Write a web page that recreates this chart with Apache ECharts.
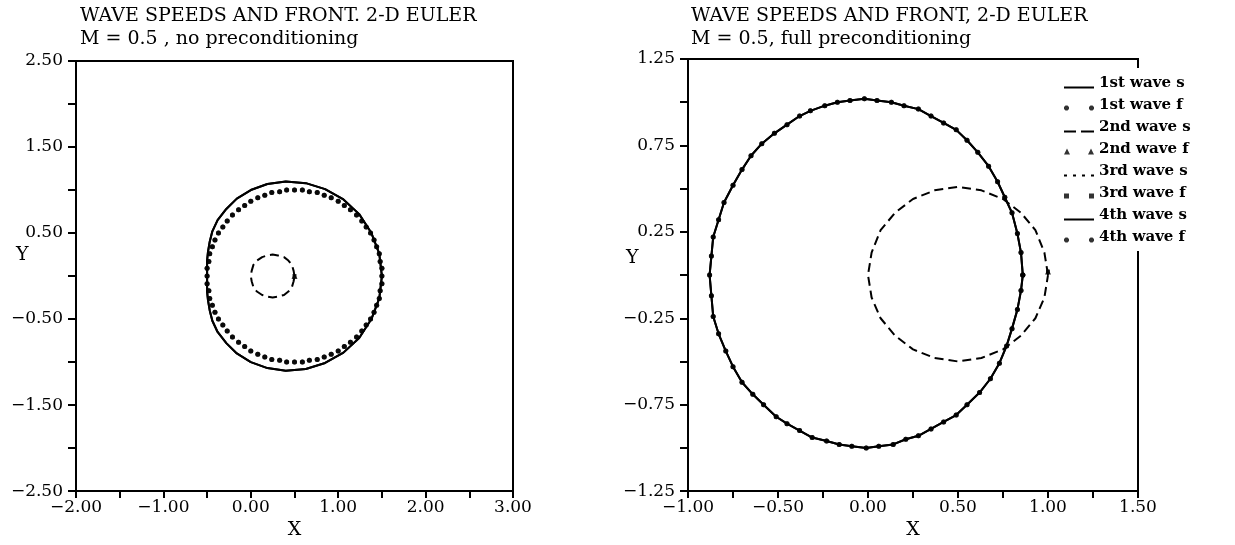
<!DOCTYPE html>
<html>
<head>
<meta charset="utf-8">
<script src="https://cdn.jsdelivr.net/npm/echarts@6/dist/echarts.min.js"></script>
<style>
html, body { margin: 0; padding: 0; background: #fff; }
#chart { width: 1235px; height: 545px; }
</style>
</head>
<body>
<div id="chart"></div>
<script>
// left panel: M = 0.5, no preconditioning
var leftSpeedX = [1.50, 1.47, 1.38, 1.24, 1.06, 0.85, 0.63, 0.40, 0.19, 0.00, -0.16, -0.28, -0.38, -0.44, -0.47, -0.49, -0.50, -0.50, -0.50,
	-0.50, -0.50, -0.49, -0.47, -0.44, -0.38, -0.28, -0.16, 0.00, 0.19, 0.40, 0.63, 0.85, 1.06, 1.24, 1.38, 1.47, 1.50];
var leftSpeedY = [0.00, 0.26, 0.50, 0.72, 0.89, 1.01, 1.08, 1.10, 1.07, 1.00, 0.90, 0.78, 0.65, 0.52, 0.40, 0.28, 0.18, 0.09, 0.00,
	-0.09, -0.18, -0.28, -0.40, -0.52, -0.65, -0.78, -0.90, -1.00, -1.07, -1.10, -1.08, -1.01, -0.89, -0.72, -0.50, -0.26, 0.00];
var leftFrontX = [1.50, 1.50, 1.48, 1.47, 1.44, 1.41, 1.37, 1.32, 1.27, 1.21, 1.14, 1.07, 1.00, 0.92, 0.84, 0.76, 0.67, 0.59,
	0.50, 0.41, 0.33, 0.24, 0.16, 0.08, 0.00, -0.07, -0.14, -0.21, -0.27, -0.32, -0.37, -0.41, -0.44, -0.47, -0.48, -0.50,
	-0.50, -0.50, -0.48, -0.47, -0.44, -0.41, -0.37, -0.32, -0.27, -0.21, -0.14, -0.07, 0.00, 0.08, 0.16, 0.24, 0.33, 0.41,
	0.50, 0.59, 0.67, 0.76, 0.84, 0.92, 1.00, 1.07, 1.14, 1.21, 1.27, 1.32, 1.37, 1.41, 1.44, 1.47, 1.48, 1.50];
var leftFrontY = [0.00, 0.09, 0.17, 0.26, 0.34, 0.42, 0.50, 0.57, 0.64, 0.71, 0.77, 0.82, 0.87, 0.91, 0.94, 0.97, 0.98, 1.00,
	1.00, 1.00, 0.98, 0.97, 0.94, 0.91, 0.87, 0.82, 0.77, 0.71, 0.64, 0.57, 0.50, 0.42, 0.34, 0.26, 0.17, 0.09,
	0.00, -0.09, -0.17, -0.26, -0.34, -0.42, -0.50, -0.57, -0.64, -0.71, -0.77, -0.82, -0.87, -0.91, -0.94, -0.97, -0.98, -1.00,
	-1.00, -1.00, -0.98, -0.97, -0.94, -0.91, -0.87, -0.82, -0.77, -0.71, -0.64, -0.57, -0.50, -0.42, -0.34, -0.26, -0.17, -0.09];
var leftEntropyX = [0.50, 0.49, 0.47, 0.43, 0.38, 0.31, 0.25, 0.19, 0.13, 0.07, 0.03, 0.01, 0.00,
	0.01, 0.03, 0.07, 0.13, 0.19, 0.25, 0.31, 0.38, 0.43, 0.47, 0.49, 0.50];
var leftEntropyY = [0.00, 0.06, 0.13, 0.18, 0.22, 0.24, 0.25, 0.24, 0.22, 0.18, 0.13, 0.06, 0.00,
	-0.06, -0.13, -0.18, -0.22, -0.24, -0.25, -0.24, -0.22, -0.18, -0.13, -0.06, 0.00];
var leftEntropyFront = [[0.50, 0.00]];

// right panel: M = 0.5, full preconditioning
var rightSpeedX = [0.86, 0.85, 0.83, 0.80, 0.76, 0.72, 0.67, 0.61, 0.55, 0.49, 0.42, 0.35, 0.28, 0.20, 0.13, 0.05, -0.02,
	-0.10, -0.17, -0.24, -0.32, -0.38, -0.45, -0.52, -0.59, -0.65, -0.70, -0.75, -0.80, -0.83, -0.86, -0.87, -0.88,
	-0.87, -0.86, -0.83, -0.79, -0.75, -0.70, -0.64, -0.58, -0.51, -0.45, -0.38, -0.31, -0.23, -0.16, -0.09, -0.01,
	0.06, 0.14, 0.21, 0.28, 0.35, 0.42, 0.49, 0.55, 0.62, 0.68, 0.73, 0.77, 0.80, 0.83, 0.85, 0.86];
var rightSpeedY = [0.00, 0.13, 0.24, 0.36, 0.45, 0.54, 0.63, 0.71, 0.78, 0.84, 0.88, 0.92, 0.96, 0.98, 1.00, 1.01, 1.02,
	1.01, 1.00, 0.98, 0.95, 0.92, 0.87, 0.82, 0.76, 0.69, 0.61, 0.52, 0.42, 0.32, 0.22, 0.11, 0.00,
	-0.12, -0.24, -0.34, -0.44, -0.53, -0.62, -0.69, -0.75, -0.82, -0.86, -0.90, -0.94, -0.96, -0.98, -0.99, -1.00,
	-0.99, -0.98, -0.95, -0.93, -0.89, -0.85, -0.81, -0.75, -0.68, -0.60, -0.51, -0.41, -0.31, -0.20, -0.09, 0.00];
var rightEntropyX = [1.00, 0.98, 0.93, 0.85, 0.75, 0.63, 0.50, 0.37, 0.25, 0.15, 0.07, 0.02, 0.00,
	0.02, 0.07, 0.15, 0.25, 0.37, 0.50, 0.63, 0.75, 0.85, 0.93, 0.98, 1.00];
var rightEntropyY = [0.00, 0.13, 0.26, 0.36, 0.44, 0.49, 0.51, 0.49, 0.44, 0.36, 0.26, 0.13, 0.00,
	-0.13, -0.25, -0.35, -0.43, -0.48, -0.50, -0.48, -0.43, -0.35, -0.25, -0.13, 0.00];
var rightEntropyFront = [[1.00, 0.02]];

var legendNames = ['1st wave s', '1st wave f', '2nd wave s', '2nd wave f', '3rd wave s', '3rd wave f', '4th wave s', '4th wave f'];

window.onload = function () {

	var serif = 'DejaVu Serif';
	var speck = 'M0,0L0.01,0L0,0.01Z';
	var dotL = 'M0,6.5L1.5,5L3.5,5L5,6.5L5,8.5L3.5,10L1.5,10L0,8.5Z';
	var dotR = 'M25,6.5L26.5,5L28.5,5L30,6.5L30,8.5L28.5,10L26.5,10L25,8.5Z';
	// legend glyphs, drawn in a 30x10 box
	var icons = {
		solid: 'path://' + speck + 'M0,8L30,8L30,10L0,10Z',
		dots: 'path://' + speck + dotL + dotR,
		dashed: 'path://' + speck + 'M0,8L12,8L12,10L0,10ZM17,8L30,8L30,10L17,10Z',
		triangles: 'path://' + speck + 'M0,10L3,4L6,10ZM24,10L27,4L30,10Z',
		dotted: 'path://' + speck + 'M0,8L3,8L3,10L0,10ZM9,8L12,8L12,10L9,10ZM18,8L21,8L21,10L18,10ZM27,8L30,8L30,10L27,10Z',
		squares: 'path://' + speck + 'M0,5L5,5L5,10L0,10ZM25,5L30,5L30,10L25,10Z'
	};
	var iconOf = ['solid', 'dots', 'dashed', 'triangles', 'dotted', 'squares', 'solid', 'dots'];

	function pairs(xs, ys) {
		var out = [];
		for (var i = 0; i < xs.length; i++) {
			out.push([xs[i], ys[i]]);
		}
		return out;
	}

	function fmt(v) {
		return v.toFixed(2).replace('-', '\u2212');
	}

	function every(step, offset) {
		return function (v) {
			var k = (v - offset) / step;
			return Math.abs(k - Math.round(k)) < 1e-6 ? fmt(v) : '';
		};
	}

	function xAxis(gridIndex, min, max, interval, labels) {
		return {
			type: 'value', gridIndex: gridIndex, min: min, max: max, interval: interval,
			name: 'X', nameLocation: 'middle', nameGap: 28,
			nameTextStyle: { fontFamily: serif, fontSize: 19, color: '#000' },
			axisLine: { onZero: false, lineStyle: { color: '#000', width: 2 } },
			axisTick: { inside: false, length: 7, lineStyle: { color: '#000', width: 2 } },
			axisLabel: { margin: 8, formatter: labels, fontFamily: serif, fontSize: 17, color: '#000' },
			splitLine: { show: false }
		};
	}

	function yAxis(gridIndex, min, max, interval, labels) {
		return {
			type: 'value', gridIndex: gridIndex, min: min, max: max, interval: interval,
			axisLine: { onZero: false, lineStyle: { color: '#000', width: 2 } },
			axisTick: { inside: false, length: 8, lineStyle: { color: '#000', width: 2 } },
			axisLabel: { margin: 13, formatter: labels, fontFamily: serif, fontSize: 17, color: '#000' },
			splitLine: { show: false }
		};
	}

	function panelSeries(i, speed, front, entropy, entropyFront) {
		var base = { xAxisIndex: i, yAxisIndex: i, animation: false, silent: true };
		function line(name, data, type) {
			return Object.assign({
				name: name, type: 'line', data: data, showSymbol: false, symbol: 'none',
				lineStyle: { color: '#000', width: 2, type: type }
			}, base);
		}
		function dots(name, data, symbol, size) {
			return Object.assign({
				name: name, type: 'scatter', data: data, symbol: symbol, symbolSize: size,
				itemStyle: { color: '#000' }
			}, base);
		}
		return [
			line('1st wave s', speed, 'solid'),
			dots('1st wave f', front, 'circle', 5),
			line('2nd wave s', entropy, [9, 5]),
			dots('2nd wave f', entropyFront, 'triangle', 6),
			line('3rd wave s', [], [2, 4]),
			dots('3rd wave f', entropyFront, 'rect', 4),
			line('4th wave s', speed, 'solid'),
			dots('4th wave f', front, 'circle', 5)
		];
	}

	var myChart = echarts.init(document.getElementById('chart'));

	var titleStyle = { fontFamily: serif, fontSize: 19, fontWeight: 'normal', color: '#000' };

	var option = {
		backgroundColor: '#fff',
		animation: false,
		title: [
			{
				left: 75, top: 2, itemGap: 4,
				text: 'WAVE SPEEDS AND FRONT. 2-D EULER',
				subtext: 'M = 0.5 , no preconditioning',
				textStyle: titleStyle, subtextStyle: titleStyle
			},
			{
				left: 686, top: 2, itemGap: 4,
				text: 'WAVE SPEEDS AND FRONT, 2-D EULER',
				subtext: 'M = 0.5, full preconditioning',
				textStyle: titleStyle, subtextStyle: titleStyle
			}
		],
		legend: {
			orient: 'vertical', left: 1062, top: 68,
			itemWidth: 30, itemHeight: 10, itemGap: 7,
			padding: [8, 4, 6, 2],
			backgroundColor: '#fff',
			selectedMode: false,
			itemStyle: { color: '#000' },
			textStyle: { fontFamily: serif, fontWeight: 'bold', fontSize: 15, color: '#000' },
			data: legendNames.map(function (n, k) {
				return { name: n, icon: icons[iconOf[k]] };
			})
		},
		grid: [
			{ left: 76, top: 61, width: 437, height: 436, show: true, borderColor: '#000', borderWidth: 2 },
			{ left: 688, top: 59, width: 450, height: 438, show: true, borderColor: '#000', borderWidth: 2 }
		],
		xAxis: [
			xAxis(0, -2, 3, 0.5, every(1, 0)),
			xAxis(1, -1, 1.5, 0.25, every(0.5, 0))
		],
		yAxis: [
			yAxis(0, -2.5, 2.5, 0.5, every(1, 0.5)),
			yAxis(1, -1.25, 1.25, 0.25, every(0.5, 0.25))
		],
		graphic: [
			{ type: 'text', left: 16, top: 246, style: { text: 'Y', font: '19px "DejaVu Serif"', fill: '#000' } },
			{ type: 'text', left: 626, top: 249, style: { text: 'Y', font: '19px "DejaVu Serif"', fill: '#000' } }
		],
		series: panelSeries(0, pairs(leftSpeedX, leftSpeedY), pairs(leftFrontX, leftFrontY),
				pairs(leftEntropyX, leftEntropyY), leftEntropyFront)
			.concat(panelSeries(1, pairs(rightSpeedX, rightSpeedY), pairs(rightSpeedX, rightSpeedY),
				pairs(rightEntropyX, rightEntropyY), rightEntropyFront))
	};

	myChart.setOption(option);
};
</script>
</body>
</html>
